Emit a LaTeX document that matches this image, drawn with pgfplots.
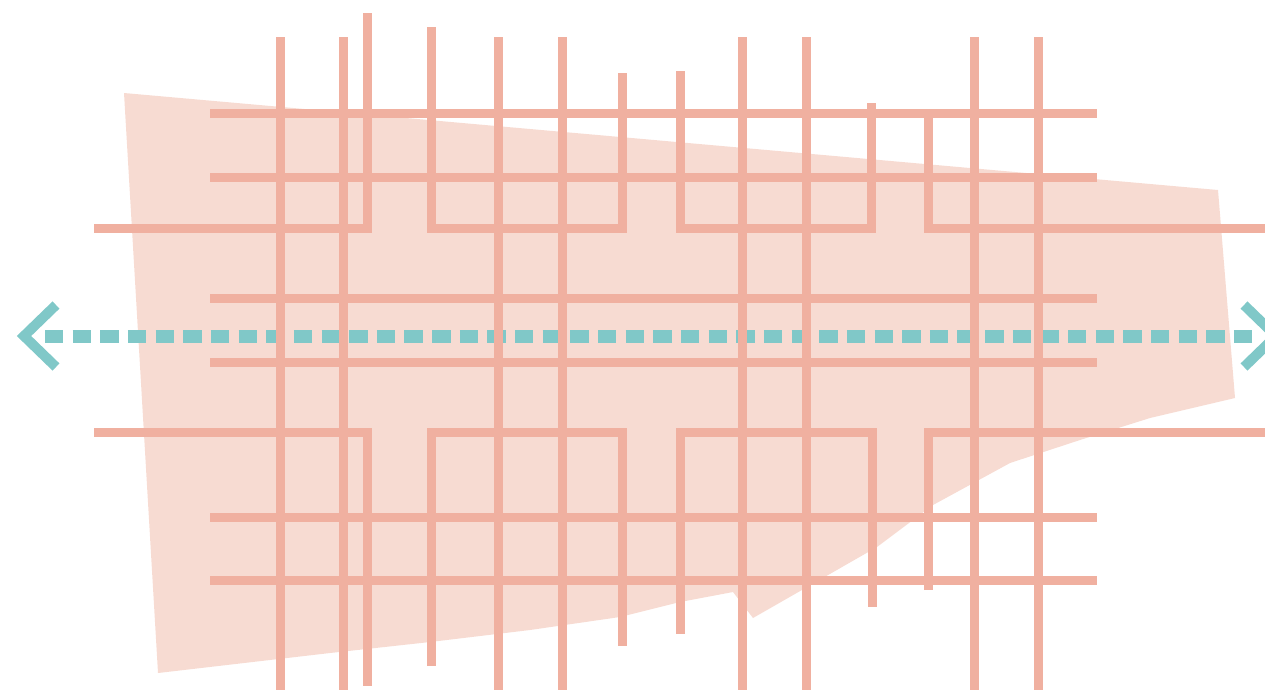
\documentclass[border=0pt]{standalone}
\usepackage{pgfplots}
\pgfplotsset{compat=1.18}
\definecolor{salmon}{HTML}{F0B0A0}
\definecolor{blush}{HTML}{F7DBD2}
\definecolor{tealc}{HTML}{80C8C8}
\begin{document}
\begin{tikzpicture}
\begin{axis}[
  width=12.65cm, height=6.89cm, scale only axis,
  xmin=0, xmax=1265, ymin=0, ymax=689, y dir=reverse,
  hide axis, clip=true,
  gl/.style={draw=salmon, line width=0.9mm, line join=miter, line cap=butt, mark=none, solid},
]
% extent of the picture
\addplot[draw=none, mark=none, forget plot] coordinates {(0,0) (1265,689)};
% background shape
\addplot[fill=blush, draw=none, mark=none] coordinates {
 (124,93) (1218,190) (1235,398) (1150,418) (1080,440) (1010,463) (933,505)
 (877,547) (753,618) (733,592) (680,602) (620,617) (530,630) (430,642)
 (330,653) (158,673) (124,93)} -- cycle;
% dashed arrow
\addplot[draw=tealc, mark=none, line width=1.3mm, dash pattern=on 1.84mm off 0.925mm] coordinates {(45,336) (1258,336)};
\addplot[draw=tealc, mark=none, solid, line width=1.0mm, line join=miter] coordinates {(56,305) (24,336) (56,367)};
\addplot[draw=tealc, mark=none, solid, line width=1.0mm, line join=miter] coordinates {(1244,305) (1276,336) (1244,367)};
% horizontal lines
\addplot[gl] coordinates {(210,113) (1097,113)};
\addplot[gl] coordinates {(210,177) (1097,177)};
\addplot[gl] coordinates {(210,298) (1097,298)};
\addplot[gl] coordinates {(210,362) (1097,362)};
\addplot[gl] coordinates {(210,517) (1097,517)};
\addplot[gl] coordinates {(210,580) (1097,580)};
% full verticals
\addplot[gl] coordinates {(280,37) (280,700)};
\addplot[gl] coordinates {(343,37) (343,700)};
\addplot[gl] coordinates {(498,37) (498,700)};
\addplot[gl] coordinates {(562,37) (562,700)};
\addplot[gl] coordinates {(742,37) (742,700)};
\addplot[gl] coordinates {(806,37) (806,700)};
\addplot[gl] coordinates {(974,37) (974,700)};
\addplot[gl] coordinates {(1038,37) (1038,700)};
% top brackets
\addplot[gl] coordinates {(94,228) (367,228) (367,13)};
\addplot[gl] coordinates {(431,27) (431,228) (622,228) (622,73)};
\addplot[gl] coordinates {(680,71) (680,228) (871,228) (871,103)};
\addplot[gl] coordinates {(928,118) (928,228) (1280,228)};
% bottom brackets
\addplot[gl] coordinates {(94,432) (367,432) (367,686)};
\addplot[gl] coordinates {(431,666) (431,432) (622,432) (622,646)};
\addplot[gl] coordinates {(680,634) (680,432) (872,432) (872,607)};
\addplot[gl] coordinates {(928,590) (928,432) (1280,432)};
\end{axis}
\end{tikzpicture}
\end{document}
